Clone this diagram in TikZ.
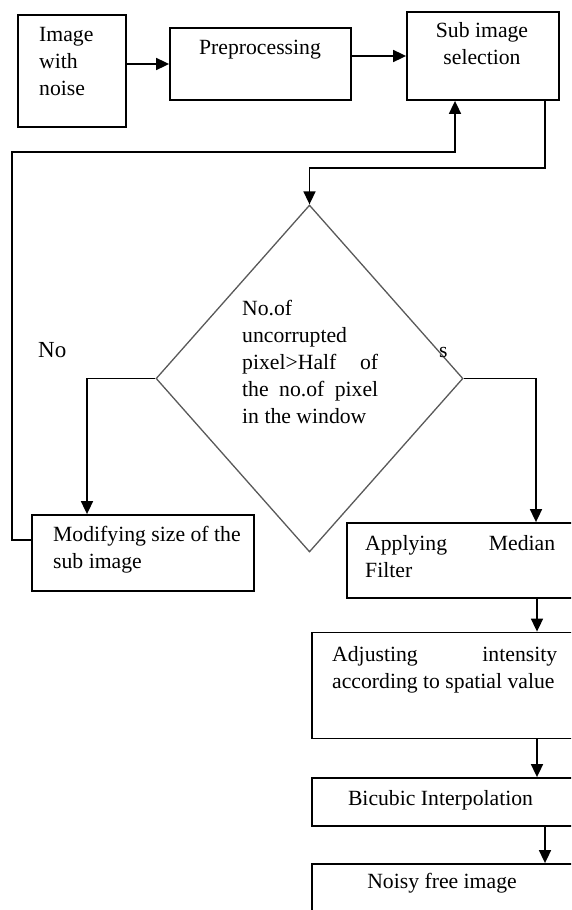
\documentclass[tikz,border=0pt]{standalone}
\usepackage{fontspec}
\setmainfont{Liberation Serif}
\usetikzlibrary{arrows.meta,positioning,shapes}
\newcommand{\spreadline}[2]{\makebox[#1][s]{#2}}

\begin{document}
\begin{tikzpicture}[x=1pt,y=-1pt,
  box/.style={draw,line width=1.8pt,rectangle,inner sep=0pt},
  txt/.style={inner sep=0pt,font=\fontsize{21.7}{27}\selectfont},
  arr/.style={line width=1.7pt,-{Triangle[width=12pt,length=13pt]}}]
\useasboundingbox (0,0) rectangle (571,910);
\clip (0,0) rectangle (571,910);
\node[box,minimum width=108,minimum height=112] (img) at (72,71) {};
\node[box,minimum width=181,minimum height=72] (pre) at (260.5,64) {};
\node[box,minimum width=152,minimum height=88] (sub) at (483,56) {};
\node[draw=black!65,line width=1.3pt,diamond,inner sep=0pt,minimum width=307,minimum height=347] (dec) at (309.5,378.5) {};
\node[box,minimum width=222,minimum height=76] (mod) at (143,553) {};
\node[box,minimum width=233,minimum height=75] (app) at (463.5,560.5) {};
\node[box,minimum width=268,minimum height=106] (adj) at (446,685.5) {};
\node[box,minimum width=268,minimum height=48] (bic) at (446,802) {};
\node[box,minimum width=268,minimum height=60] (noi) at (446,894) {};
% texts
\node[txt,anchor=west,align=left] (imgt) at (39,62) {Image\\with\\noise};
\node[txt] (pret) at (260,50) {Preprocessing};
\node[txt,align=center] (subt) at (482,44) {Sub image\\selection};
\node[txt,anchor=west,align=left] (dect) at (242,362) {No.of\\uncorrupted\\\spreadline{136pt}{pixel>Half of}\\\spreadline{136pt}{the no.of pixel}\\in the window};
\node[txt,anchor=west,font=\fontsize{23}{27}\selectfont] (no) at (38,350) {No};
\node[txt,anchor=west] (yes) at (439,352) {s};
\node[txt,anchor=west,align=left] (modt) at (53,550) {Modifying size of the\\sub image};
\node[txt,anchor=west,align=left] (appt) at (365,556.5) {\spreadline{190pt}{Applying Median}\\Filter};
\node[txt,anchor=west,align=left] (adjt) at (332,670) {\spreadline{225pt}{Adjusting intensity}\\according to spatial value};
\node[txt] (bict) at (440.5,800) {Bicubic Interpolation};
\node[txt] (noit) at (442,883) {Noisy free image};
% connectors
\draw[arr] (img.east |- pre) -- (pre.west);
\draw[arr] (pre.east |- sub) -- (sub.west);
\draw[arr] ([xshift=62pt]sub.south) -- ++(0,67) -| (dec.north);
\draw[arr] (dec.west) -| ([xshift=-56pt]mod.north);
\draw[arr] (dec.east) -| ([xshift=72.5pt]app.north);
\draw[arr] ([yshift=13pt]mod.west) -| (12,152) -| ([xshift=-28pt]sub.south);
\draw[arr] ([xshift=73.5pt]app.south) -- ([xshift=73.5pt]app.south |- adj.north);
\draw[arr] ([xshift=91pt]adj.south) -- ([xshift=91pt]adj.south |- bic.north);
\draw[arr] ([xshift=99pt]bic.south) -- ([xshift=99pt]bic.south |- noi.north);
\end{tikzpicture}
\end{document}
